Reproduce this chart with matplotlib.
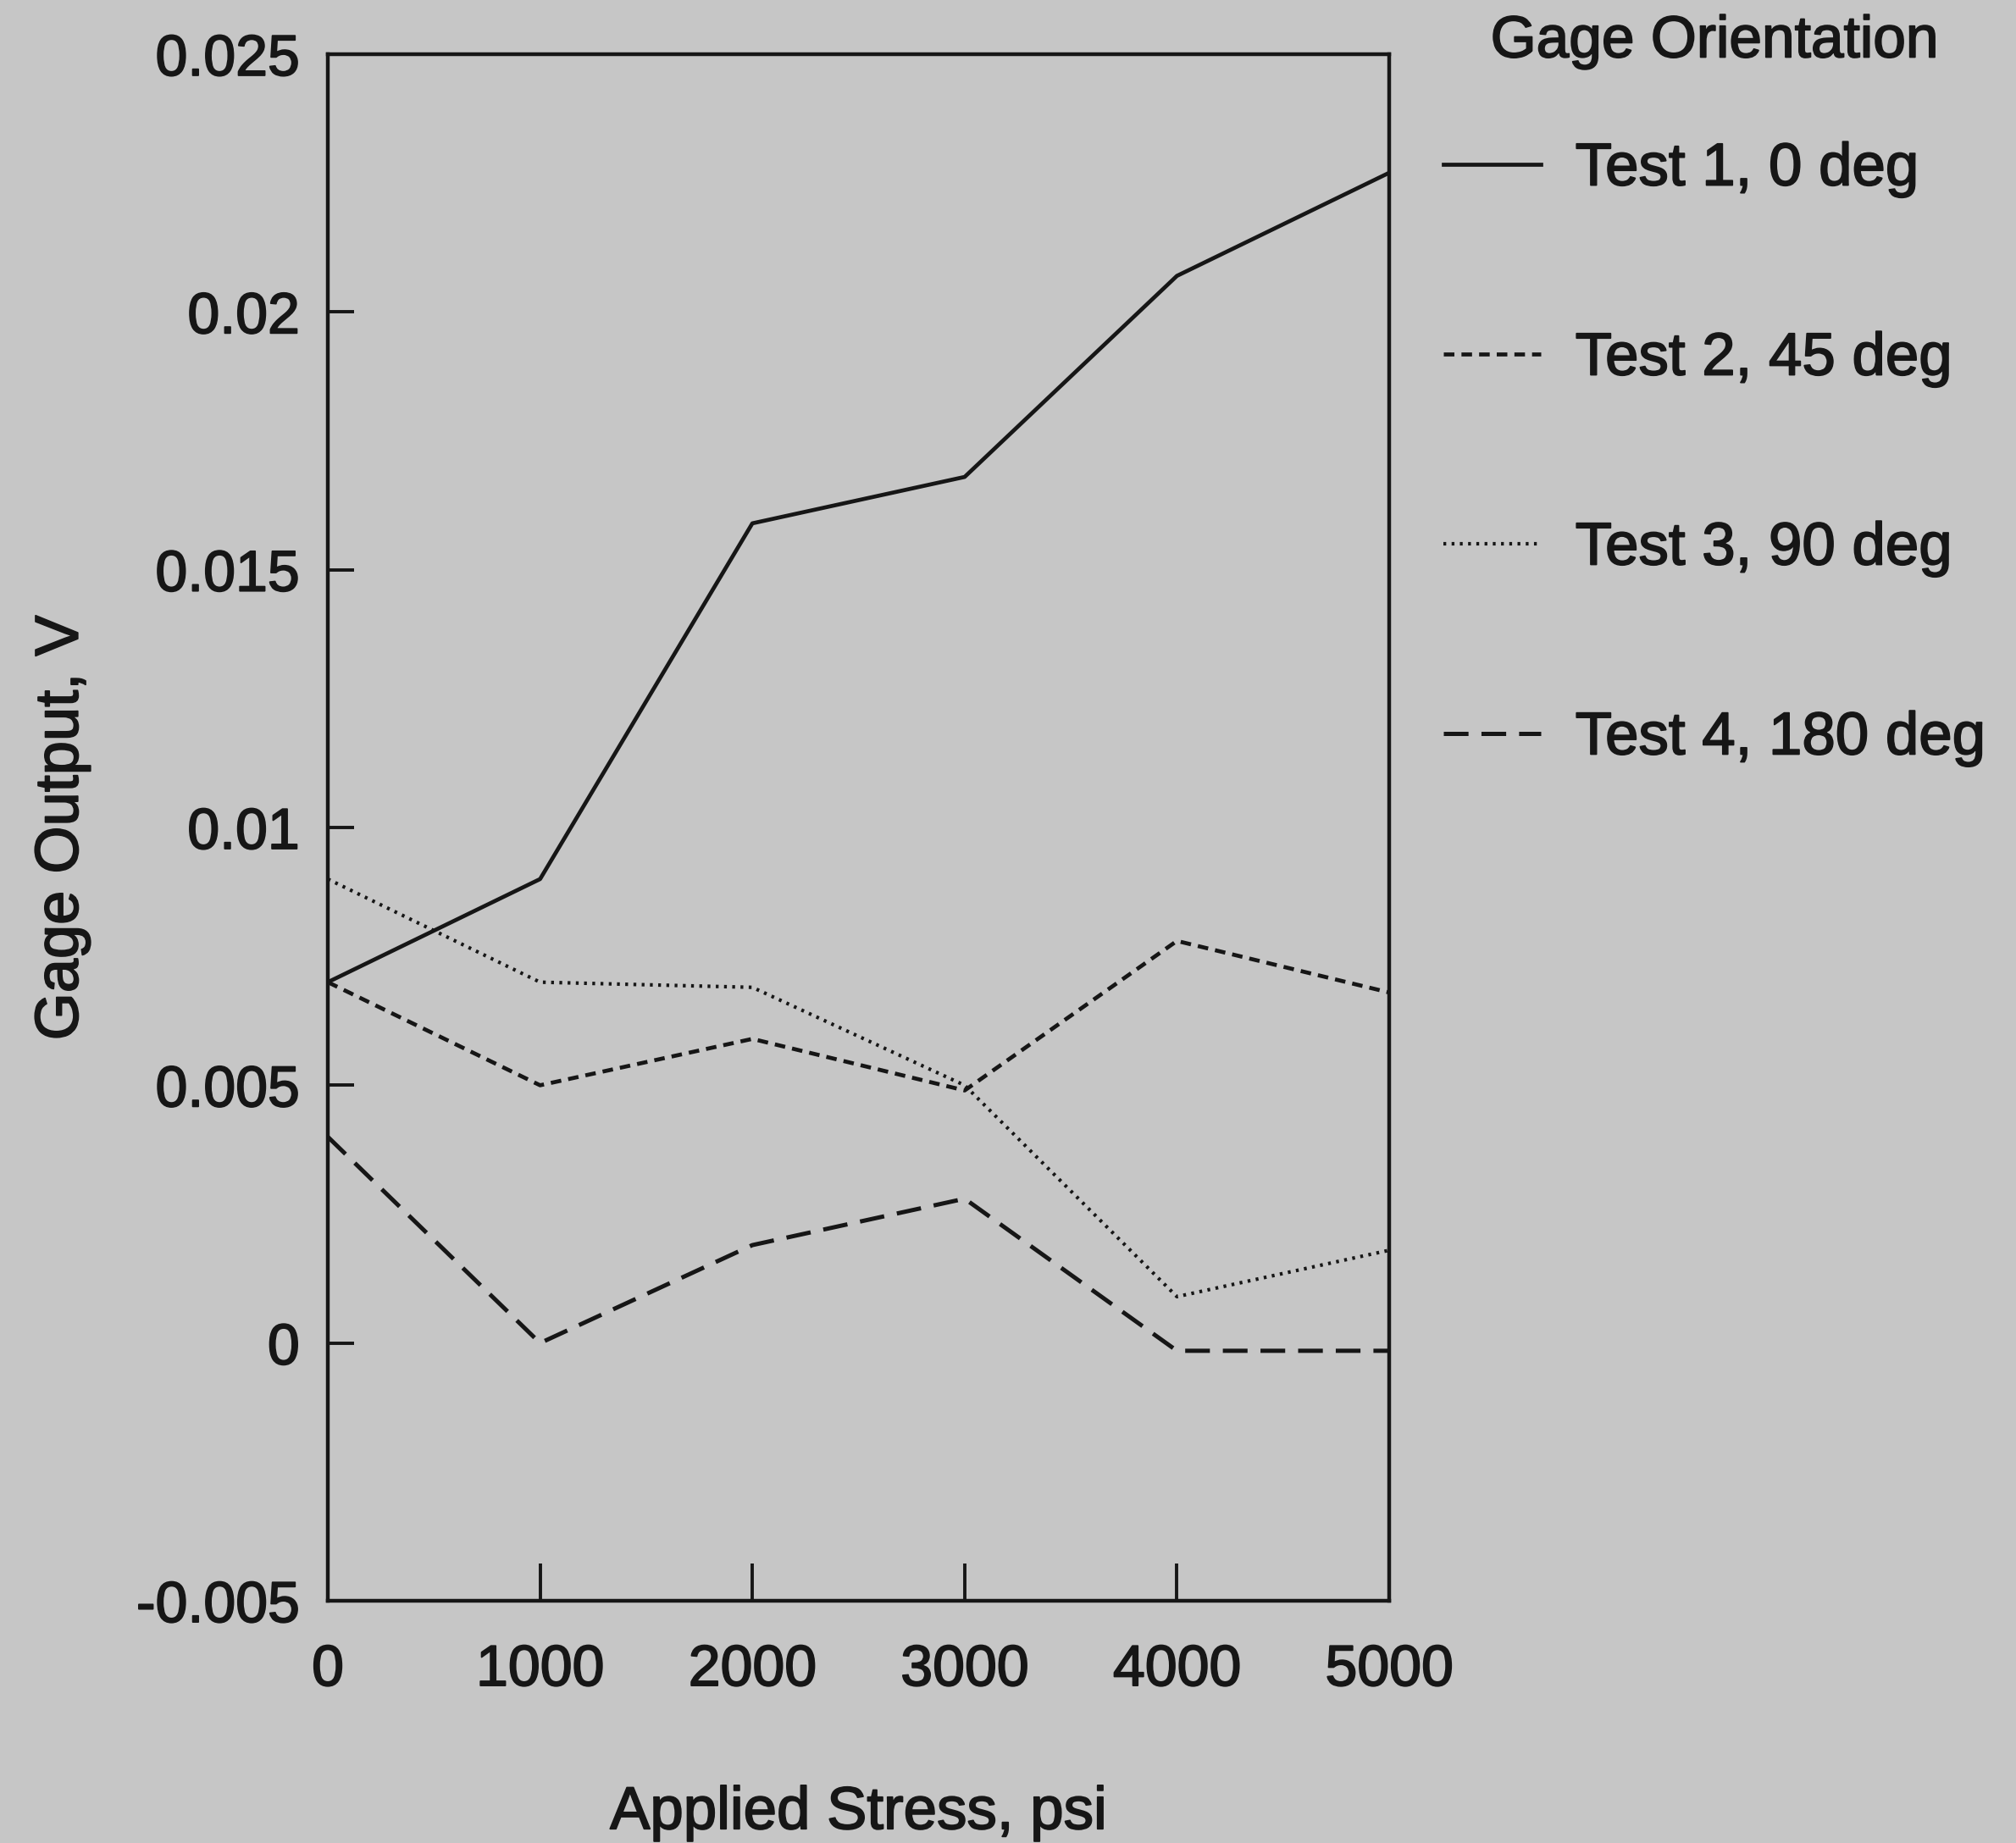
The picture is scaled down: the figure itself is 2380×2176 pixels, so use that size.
import numpy as np
import matplotlib.pyplot as plt
import matplotlib.patheffects as pe

# data
stress = [0, 1000, 2000, 3000, 4000, 5000]
test1 = [0.0070, 0.0090, 0.0159, 0.0168, 0.0207, 0.0227]
test2 = [0.0070, 0.0050, 0.0059, 0.0049, 0.0078, 0.0068]
test3 = [0.0090, 0.0070, 0.0069, 0.0050, 0.0009, 0.0018]
test4 = [0.0040, 0.0000, 0.0019, 0.0028, -0.00015, -0.00015]
labels = ['Test 1, 0 deg', 'Test 2, 45 deg', 'Test 3, 90 deg', 'Test 4, 180 deg']
yticks = [-0.005, 0, 0.005, 0.01, 0.015, 0.02, 0.025]
ytick_labels = ['-0.005', '0', '0.005', '0.01', '0.015', '0.02', '0.025']

bg = '#c6c6c6'
ink = '#161616'
plt.rcParams['font.family'] = ['Liberation Sans', 'DejaVu Sans']
plt.rcParams['lines.scale_dashes'] = False
thick = [pe.withStroke(linewidth=1.3, foreground=ink)]

fig = plt.figure(figsize=(23.8, 21.76), dpi=100, facecolor=bg)
ax = fig.add_axes([0.1626, 0.1314, 0.5265, 0.8392])
ax.set_facecolor(bg)

styles = [
    dict(linestyle='-', lw=3.4),
    dict(linestyle=(0, (9, 6)), lw=3.4),
    dict(linestyle=(0, (2.4, 4.6)), lw=3.0),
    dict(linestyle=(0, (21, 11)), lw=3.6),
]
lines = []
for series, st, lab in zip([test1, test2, test3, test4], styles, labels):
    ln, = ax.plot(stress, series, color=ink, label=lab, **st)
    lines.append(ln)

ax.set_xlim(0, 5000)
ax.set_ylim(-0.005, 0.025)
ax.set_xticks(stress)
ax.set_xticklabels([str(s) for s in stress], fontsize=49)
ax.set_yticks(yticks)
ax.set_yticklabels(ytick_labels, fontsize=49)
ax.tick_params(axis='x', direction='in', length=32, width=2.8, pad=36, colors=ink)
ax.tick_params(axis='y', direction='in', length=22, width=2.8, pad=24, colors=ink)
for t in ax.get_xticklabels() + ax.get_yticklabels():
    t.set_path_effects(thick)
for sp in ax.spines.values():
    sp.set_linewidth(3.2)
    sp.set_color(ink)

xl = ax.set_xlabel('Applied Stress, psi', fontsize=51, color=ink, labelpad=75)
yl = ax.set_ylabel('Gage Output, V', fontsize=52, color=ink, labelpad=39)
xl.set_path_effects(thick)
yl.set_path_effects(thick)

leg = fig.legend(handles=lines, loc='upper left', bbox_to_anchor=(0.704, 1.005),
                 frameon=False, fontsize=51, title='Gage Orientation',
                 title_fontsize=50, handlelength=1.62, handletextpad=0.58,
                 labelspacing=2.23, borderaxespad=0)
for t in leg.get_texts():
    t.set_color(ink)
    t.set_path_effects(thick)
leg.get_title().set_color(ink)
leg.get_title().set_path_effects(thick)
leg._legend_box.sep = 62

fig.savefig('out.png', dpi=100, facecolor=bg)
